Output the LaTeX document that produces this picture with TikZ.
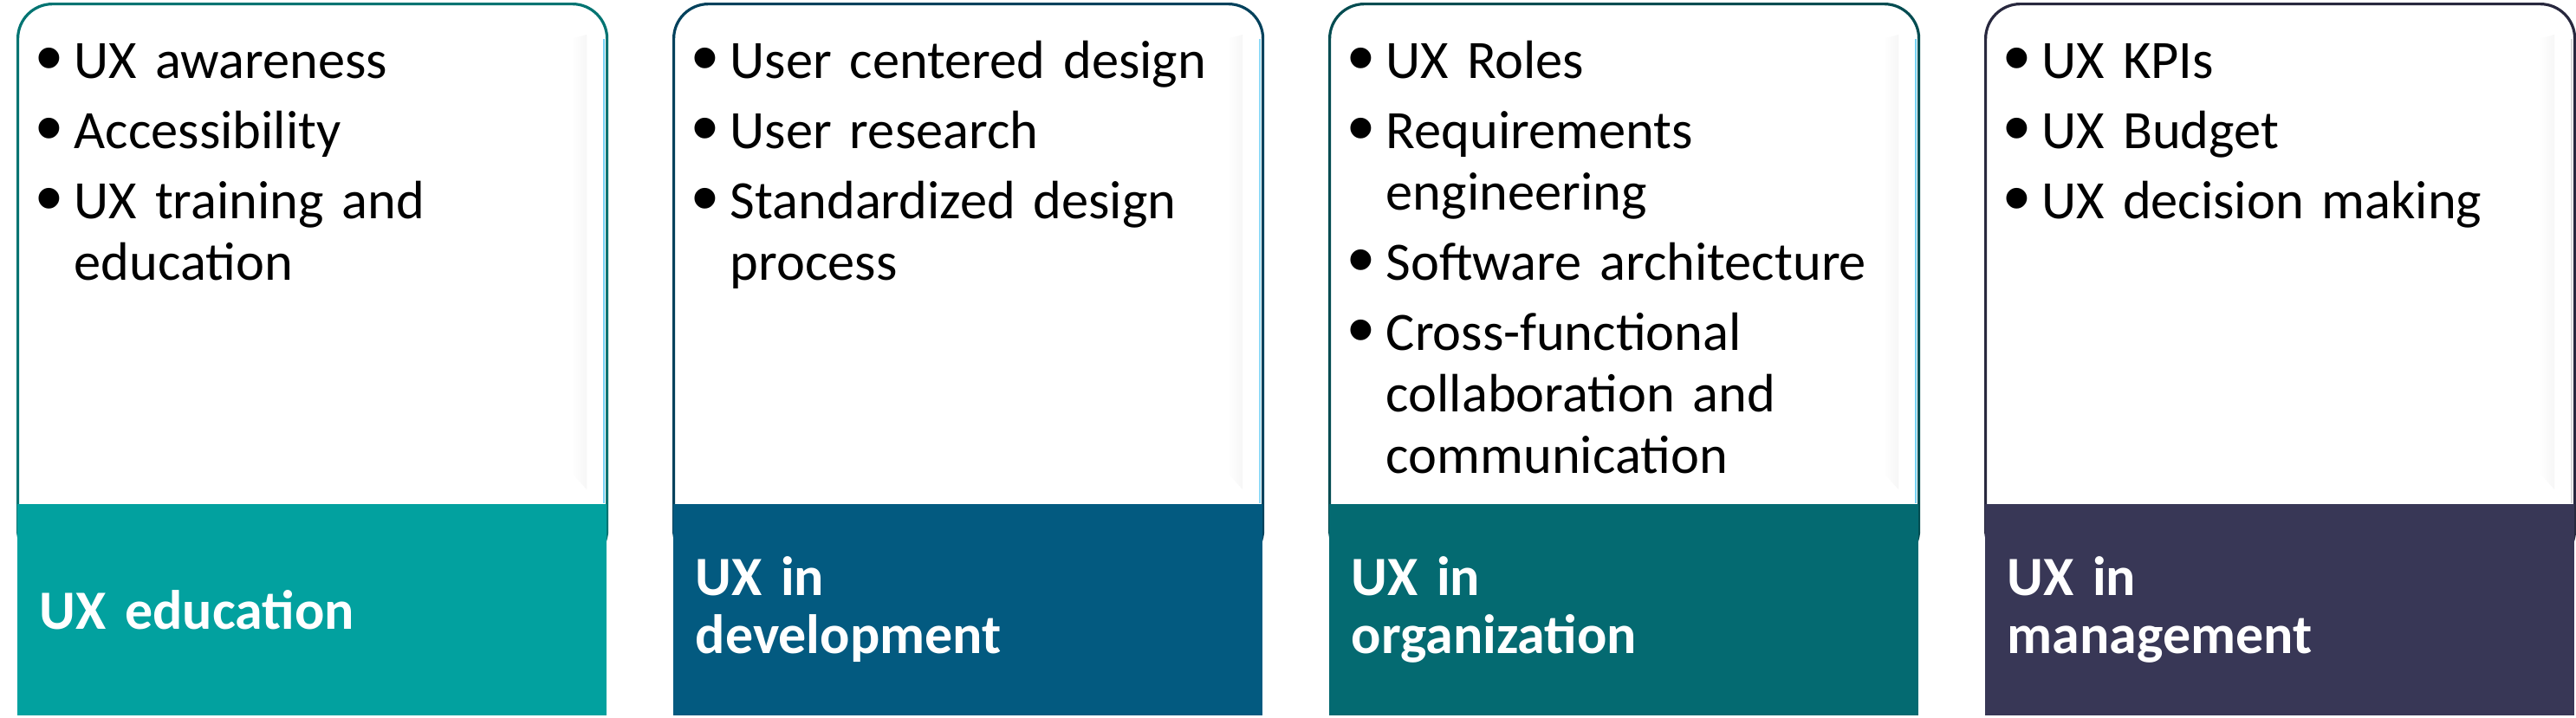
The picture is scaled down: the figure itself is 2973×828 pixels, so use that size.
\documentclass[tikz,border=0pt]{standalone}
\usepackage{fontspec}
\setmainfont{Carlito}
\newfontfamily\bulfont{Liberation Sans}
\definecolor{cA}{RGB}{2,161,159}
\definecolor{cB}{RGB}{3,90,128}
\definecolor{cC}{RGB}{4,106,113}
\definecolor{cD}{RGB}{56,55,86}
\newcommand{\bul}{\hspace*{-1pt}\raisebox{-1.3pt}{\bulfont\fontsize{22}{22}\selectfont\symbol{"2022}}}
\newcommand{\bitem}[1]{\par\noindent\hangindent=10pt\hangafter=1\makebox[10pt][l]{\bul}\rule{0pt}{13pt}#1\par}
\newcommand{\listfont}{\fontsize{15.6}{17.75}\selectfont\raggedright\setlength{\parskip}{2.5pt}}
\begin{document}
\begin{tikzpicture}[x=0.25pt,y=-0.25pt,
  card/.style={draw=#1!72!black, line width=0.8pt, fill=white, rounded corners=10pt,
    minimum width=170pt, minimum height=161.75pt, anchor=north west, inner sep=0pt},
  band/.style={fill=#1, minimum width=170pt, minimum height=61pt, anchor=north west,
    inner xsep=6.5pt, inner ysep=0pt, text width=157pt, align=left, text=white,
    font=\fontsize{16}{16.75}\selectfont\bfseries},
  items/.style={anchor=north west, inner sep=0pt, text width=162pt, font=\listfont},
  shadeband/.style={left color=white, right color=black!3.5},
  hilite/.style={draw=#1, line width=0.35pt}
]
\useasboundingbox (0,0) rectangle (2973,828);

% panel 1
\node[card=cA] (card1) at (19,3) {};
\shade[shadeband] (19+640,45) -- (19+658,40) -- (19+658,565) -- (19+640,545) -- cycle;
\draw[hilite=cyan!55] (19+678,45) -- (19+678,581);
\node[band=cA] (band1) at (19,581) {UX education};
\node[items] (list1) at (45,9) {\bitem{UX awareness}\bitem{Accessibility}\bitem{UX training and\newline education}};

% panel 2
\node[card=cB] (card2) at (776,3) {};
\shade[shadeband] (776+640,45) -- (776+658,40) -- (776+658,565) -- (776+640,545) -- cycle;
\draw[hilite=cyan!45] (776+678,45) -- (776+678,581);
\node[band=cB] (band2) at (776,581) {UX in\\development};
\node[items] (list2) at (802,9) {\bitem{User centered design}\bitem{User research}\bitem{Standardized design\newline process}};

% panel 3
\node[card=cC] (card3) at (1533,3) {};
\shade[shadeband] (1533+640,45) -- (1533+658,40) -- (1533+658,565) -- (1533+640,545) -- cycle;
\draw[hilite=cyan!55] (1533+678,45) -- (1533+678,581);
\node[band=cC] (band3) at (1533,581) {UX in\\organization};
\node[items] (list3) at (1559,9) {\bitem{UX Roles}\bitem{Requirements\newline engineering}\bitem{Software architecture}\bitem{Cross-functional\newline collaboration and\newline communication}};

% panel 4
\node[card=cD] (card4) at (2290,3) {};
\shade[shadeband] (2290+640,45) -- (2290+658,40) -- (2290+658,565) -- (2290+640,545) -- cycle;
\draw[hilite=black!15] (2290+678,45) -- (2290+678,581);
\node[band=cD] (band4) at (2290,581) {UX in\\management};
\node[items] (list4) at (2316,9) {\bitem{UX KPIs}\bitem{UX Budget}\bitem{UX decision making}};
\end{tikzpicture}
\end{document}
